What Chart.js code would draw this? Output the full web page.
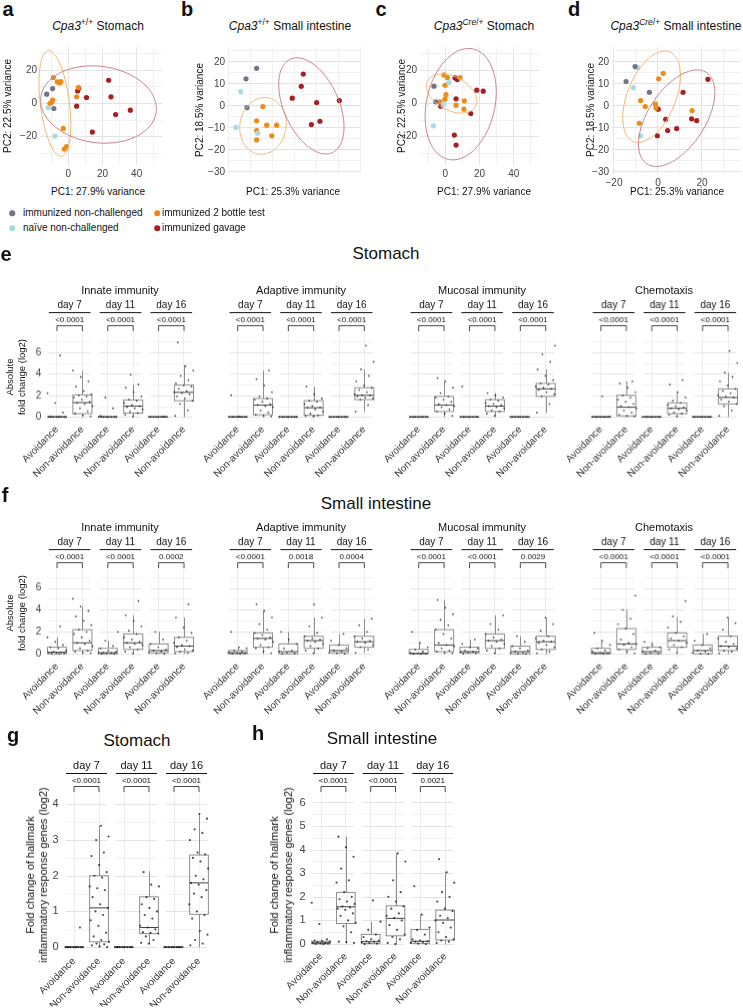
<!DOCTYPE html>
<html><head><meta charset="utf-8"><title>Figure</title>
<script src="https://cdn.jsdelivr.net/npm/chart.js@4.4.1/dist/chart.umd.min.js"></script>
<style>
html,body{margin:0;padding:0;background:#fff}
body{width:743px;height:1008px;position:relative;overflow:hidden;font-family:"Liberation Sans",Arial,Helvetica,sans-serif;color:#111}
canvas{position:absolute}
.tx{position:absolute;white-space:nowrap;line-height:1}
.c{transform:translate(-50%,-50%)}
.l{transform:translate(0,-50%)}
.rot{position:absolute;white-space:pre;text-align:center;transform:translate(-50%,-50%) rotate(-90deg)}
.sup{font-size:8.5px;position:relative;top:-5px}
.dot{position:absolute;width:5.5px;height:5.5px;border-radius:50%;transform:translate(-50%,-50%)}
</style></head><body>
<script>
// ================= DATA =================
const pcaGroups = ['immunized non-challenged','naïve non-challenged','immunized 2 bottle test','immunized gavage'];

// panel a : Cpa3+/+ Stomach  [PC1, PC2]
const a_nonchal = [[-12.6,5.6],[-9.1,9.0],[-8.4,-3.0]];
const a_naive   = [[-11.7,-2.6],[-7.8,-19.6]];
const a_bottle  = [[-8.7,15.6],[-6.4,13.0],[-4.9,12.4],[-4.3,13.2],[-10.7,0.0],[-9.7,0.8],[-9.1,2.0],[5.9,9.6],[4.9,4.0],[-2.9,-15.0],[-2.3,-27.4],[-1.0,-26.0]];
const a_gavage  = [[5.5,7.6],[6.1,9.2],[4.9,-1.6],[10.7,3.6],[14.1,-17.2],[23.6,14.0],[25.0,4.0],[27.7,-6.6],[36.3,-4.0]];
// ellipses: [centre PC1, centre PC2, semi-major, semi-minor, angle deg] for 2 bottle / gavage
const a_ellipses = [[-7.8,0.0,32,8.5,97],[17.7,-0.6,34,23,-8]];

// panel b : Cpa3+/+ Small intestine
const b_nonchal = [[-12.7,12.3],[-7.9,17.1],[-12.3,-0.8]];
const b_naive   = [[-15.1,6.5],[-17.3,-9.8],[-7.4,-12.4]];
const b_bottle  = [[-5.1,-0.3],[-7.9,-6.8],[-7.9,-11.2],[-7.9,-15.5],[-3.3,-8.8],[1.2,-8.8],[-1.0,-13.6]];
const b_gavage  = [[8.3,3.5],[12.4,8.9],[13.3,14.5],[19.4,1.5],[17.0,-8.5],[20.9,-7.0],[29.7,2.4]];
const b_ellipses = [[-5.0,-9.1,13,10.5,80],[17.0,0.0,23.3,12.5,114]];

// panel c : Cpa3Cre/+ Stomach
const c_nonchal = [[-6.6,10.4],[-5.6,1.0]];
const c_naive   = [[2.2,12.6],[-1.2,-0.4],[-7.0,-13.4]];
const c_bottle  = [[-0.8,17.2],[1.2,15.6],[8.6,15.6],[-0.2,11.0],[0.4,5.4],[-0.2,2.6],[-3.1,1.0],[6.3,-1.0],[11.1,1.6],[10.9,-3.4]];
const c_gavage  = [[5.7,15.4],[7.0,14.4],[6.3,2.8],[-2.7,-1.6],[18.4,8.0],[22.2,7.4],[14.9,-6.0],[5.3,-19.0],[6.3,-25.0]];
const c_ellipses = [[3.7,6.0,16,10,-30],[9.0,-0.4,34,20,78]];

// panel d : Cpa3Cre/+ Small intestine
const d_nonchal = [[-10.4,17.9],[-14.5,11.1],[-3.9,6.2]];
const d_naive   = [[-9.2,17.4],[-11.2,8.3],[-7.9,-13.6]];
const d_bottle  = [[2.4,14.8],[0.3,12.3],[-7.9,2.4],[-5.8,-0.3],[-8.5,-7.9],[-1.2,0.8],[-0.9,-1.0],[15.5,-2.1]];
const d_gavage  = [[0.1,-1.5],[11.4,6.2],[22.7,12.1],[3.5,-6.1],[15.3,-5.9],[17.6,-6.7],[8.5,-10.3],[4.4,-11.2],[-0.3,-13.6]];
const d_ellipses = [[-2.9,4.2,22,11,68],[8.5,-5.6,24.8,13,57]];

// box plots
const cats = ['Avoidance','Non-avoidance','Avoidance','Non-avoidance','Avoidance','Non-avoidance'];
const days = ['day 7','day 11','day 16'];
// box stats: [lower whisker, Q1, median, Q3, upper whisker]
const e_innate_box   = [[0,0,0,0,0],[0,0.3,1.33,2.04,4.3],[0,0,0,0,0],[0,0.35,1.0,1.57,3.0],[0,0,0,0,0],[0,1.5,2.28,2.96,4.8]];
const e_adaptive_box = [[0,0,0,0,0],[0,0.2,1.1,1.7,4.3],[0,0,0,0,0],[0,0.15,0.85,1.5,2.8],[0,0,0,0,0],[0.5,1.6,2.0,2.7,4.4]];
const e_mucosal_box  = [[0,0,0,0,0],[0,0.5,1.1,1.9,3.3],[0,0,0,0,0],[0,0.5,1.0,1.6,2.2],[0,0,0,0,0],[0.4,1.9,2.6,3.1,4.4]];
const e_chemo_box    = [[0,0,0,0,0],[0,0.1,0.9,2.0,3.3],[0,0,0,0,0],[0,0.3,0.8,1.3,2.3],[0,0,0,0,0],[0,1.2,1.8,2.6,4.1]];
const f_innate_box   = [[0,0,0.15,0.6,1.5],[0,0.3,1.0,2.2,4.3],[0,0,0.1,0.5,1.2],[0,0.4,1.0,1.8,3.5],[0,0.1,0.3,0.9,2.0],[0,0.2,0.7,1.5,3.3]];
const f_adaptive_box = [[0,0,0.1,0.3,0.6],[0,0.6,1.4,1.9,3.9],[0,0,0.2,0.9,2.0],[0,0.5,1.2,1.6,3.3],[0,0.1,0.3,0.8,1.8],[0.1,0.6,1.1,1.6,3.2]];
const f_mucosal_box  = [[0,0,0.05,0.4,1.0],[0,0.2,0.8,2.2,4.9],[0,0.1,0.2,0.6,1.3],[0,0.5,1.2,1.8,3.5],[0,0,0.2,0.7,1.6],[0,0.4,1.1,1.6,3.3]];
const f_chemo_box    = [[0,0,0.1,0.5,1.2],[0,0.4,0.9,2.3,4.0],[0,0,0.2,0.6,1.1],[0,0.6,1.2,1.9,3.4],[0,0,0.3,0.8,1.8],[0,0.3,0.7,1.6,3.3]];
const g_box = [[0,0,0,0,0],[0,0.15,1.1,2.0,3.4],[0,0,0,0,0],[0.08,0.38,0.55,1.41,2.12],[0,0,0,0,0],[0,0.92,1.8,2.58,3.73]];
const h_box = [[0,0.01,0.05,0.12,0.2],[0.03,0.87,1.58,2.19,4.55],[0,0.02,0.1,0.41,0.95],[0,0.35,1.09,1.62,3.84],[0,0.03,0.12,0.62,1.25],[0,0.17,1.02,1.44,3.04]];

// individual gene values (log2)
const e_innate_pts = [
 [0,0,0,0,0,0,0,0,0,0.05,0.4,1.3,2.2,5.7],
 [0.05,0.15,0.3,0.5,0.8,1.0,1.2,1.3,1.4,1.6,1.8,1.9,2.0,2.1,2.4,2.8,3.3,3.7,4.3],
 [0,0,0,0,0,0,0,0,0.1,0.8,1.8],
 [0.05,0.2,0.35,0.5,0.7,0.8,0.9,1.0,1.1,1.3,1.5,1.6,1.9,2.3,2.7,3.0,3.9],
 [0,0,0,0,0,0,0,0,0.05],
 [0.1,0.6,1.2,1.5,1.7,1.9,2.1,2.2,2.3,2.4,2.6,2.8,2.9,3.1,3.4,3.8,4.3,4.7,6.9]];
const e_adaptive_pts = [
 [0,0,0,0,0,0,0,0,0.05,2.0],
 [0.05,0.1,0.2,0.4,0.6,0.9,1.0,1.1,1.2,1.4,1.6,1.7,1.9,2.3,2.9,3.5,4.3],
 [0,0,0,0,0,0,0,0],
 [0.05,0.1,0.15,0.3,0.5,0.7,0.85,0.9,1.0,1.2,1.4,1.5,1.7,2.1,2.8],
 [0,0,0,0,0,0,0,0],
 [0.5,1.1,1.6,1.7,1.8,1.9,2.0,2.0,2.1,2.3,2.5,2.7,2.9,3.3,3.8,4.4,5.1,6.6]];
const e_mucosal_pts = [
 [0,0,0,0,0,0,0,0],
 [0.1,0.3,0.5,0.7,0.9,1.0,1.1,1.2,1.4,1.6,1.8,1.9,2.2,2.7,3.3,3.6],
 [0,0,0,0,0,0,0,0,2.8],
 [0.1,0.3,0.5,0.6,0.8,0.9,1.0,1.1,1.2,1.3,1.5,1.6,1.8,2.0,2.2],
 [0,0,0,0,0,0,0,0],
 [0.4,1.2,1.9,2.1,2.3,2.5,2.6,2.7,2.8,3.0,3.1,3.4,3.8,4.4,5.1,5.8,6.6]];
const e_chemo_pts = [
 [0,0,0,0,0,0,0,0.05,1.9],
 [0.05,0.1,0.2,0.4,0.6,0.8,0.9,1.0,1.2,1.4,1.6,1.8,2.0,2.3,2.7,3.1,3.3],
 [0,0,0,0,0,0,0,0],
 [0.05,0.2,0.3,0.4,0.6,0.7,0.8,0.9,1.0,1.1,1.3,1.5,1.8,2.3,3.0,3.4],
 [0,0,0,0,0,0,0,0],
 [0.1,0.6,1.0,1.2,1.4,1.6,1.8,1.9,2.0,2.2,2.4,2.6,2.9,3.3,3.7,4.1,5.0,6.1]];
const f_innate_pts = [
 [0,0.02,0.05,0.1,0.12,0.15,0.2,0.3,0.5,0.6,0.8,1.1,1.5,2.5],
 [0.05,0.1,0.2,0.3,0.5,0.7,0.9,1.0,1.2,1.5,1.8,2.0,2.2,2.6,3.0,3.4,3.9,4.3,5.0],
 [0,0.02,0.05,0.08,0.1,0.15,0.2,0.3,0.5,0.7,1.2,2.0],
 [0.05,0.2,0.4,0.6,0.8,0.9,1.0,1.1,1.3,1.5,1.8,2.1,2.5,3.0,3.5,4.8],
 [0,0.05,0.1,0.2,0.3,0.4,0.6,0.9,1.3,2.0],
 [0.05,0.1,0.2,0.3,0.4,0.6,0.7,0.8,1.0,1.2,1.5,1.9,2.4,3.3,4.5]];
const f_adaptive_pts = [
 [0,0.02,0.05,0.1,0.15,0.2,0.3,0.5,0.6,2.0],
 [0.05,0.2,0.5,0.6,0.8,1.1,1.3,1.4,1.5,1.7,1.9,2.2,2.7,3.3,3.9,4.5],
 [0,0.05,0.1,0.2,0.3,0.5,0.9,1.3,2.0],
 [0.05,0.3,0.5,0.7,0.9,1.1,1.2,1.3,1.4,1.6,1.9,2.5,3.3,4.5],
 [0,0.05,0.1,0.2,0.3,0.5,0.8,1.2,1.8],
 [0.1,0.4,0.6,0.8,1.0,1.1,1.2,1.4,1.6,2.0,2.6,3.2]];
const f_mucosal_pts = [
 [0,0,0.02,0.05,0.1,0.2,0.4,0.6,1.0,2.0],
 [0.05,0.1,0.2,0.3,0.5,0.7,0.8,1.0,1.4,1.8,2.2,2.6,3.1,3.6,4.2,4.9],
 [0,0.05,0.1,0.15,0.2,0.3,0.5,0.6,0.9,1.3],
 [0.05,0.3,0.5,0.7,0.9,1.1,1.2,1.3,1.5,1.8,2.2,2.7,3.5],
 [0,0.02,0.05,0.1,0.2,0.3,0.5,0.7,1.1,1.6],
 [0.05,0.2,0.4,0.6,0.8,1.0,1.1,1.2,1.4,1.6,2.1,2.7,3.3]];
const f_chemo_pts = [
 [0,0.02,0.05,0.1,0.2,0.3,0.5,0.8,1.2,1.9],
 [0.05,0.2,0.4,0.6,0.8,0.9,1.0,1.3,1.8,2.3,2.7,3.2,4.0,5.3],
 [0,0.05,0.1,0.2,0.3,0.5,0.6,0.8,1.1],
 [0.1,0.4,0.6,0.8,1.0,1.2,1.4,1.6,1.9,2.4,2.9,3.4,4.8],
 [0,0.02,0.1,0.2,0.3,0.5,0.8,1.2,1.8],
 [0.05,0.2,0.3,0.5,0.6,0.7,0.9,1.1,1.4,1.6,2.2,2.8,3.3]];
const g_pts = [
 [0,0,0,0,0,0,0,0,0,0,0.55],
 [0,0.02,0.05,0.08,0.1,0.15,0.2,0.3,0.4,0.6,0.75,0.9,1.0,1.1,1.2,1.4,1.6,1.65,1.7,1.95,2.0,2.1,2.3,2.55,2.65,3.0,3.1,3.4],
 [0,0,0,0,0,0,0,0,0],
 [0.1,0.12,0.2,0.3,0.38,0.4,0.42,0.5,0.55,0.6,0.8,0.9,1.0,1.1,1.2,1.35,1.4,1.7,1.75,2.1],
 [0,0,0,0,0,0,0,0,0],
 [0.05,0.1,0.2,0.35,0.45,0.8,0.9,1.0,1.2,1.4,1.5,1.6,1.75,1.8,1.9,2.0,2.2,2.4,2.5,2.6,2.65,3.0,3.2,3.3,3.6,3.73]];
const h_pts = [
 [0,0.01,0.02,0.03,0.05,0.05,0.08,0.1,0.12,0.15,0.2,0.85,1.75],
 [0.05,0.08,0.1,0.5,0.75,0.9,1.0,1.2,1.3,1.45,1.5,1.55,1.6,1.7,1.8,1.9,2.0,2.2,2.6,2.7,3.2,3.7,4.1,4.55],
 [0,0.02,0.05,0.08,0.1,0.12,0.15,0.2,0.3,0.4,0.6,0.95,1.85],
 [0,0.05,0.2,0.3,0.4,0.6,0.8,1.0,1.1,1.2,1.3,1.5,1.6,1.8,2.0,2.2,2.7,3.5,3.84],
 [0,0.02,0.05,0.08,0.1,0.12,0.15,0.2,0.4,0.6,0.7,1.25,2.45],
 [0.05,0.1,0.15,0.2,0.3,0.5,0.7,0.9,1.0,1.1,1.2,1.4,1.5,1.8,2.0,2.2,2.6,3.04,3.6]];

// p-values per day
const e_innate_p = ['<0.0001','<0.0001','<0.0001'];
const e_adaptive_p = ['<0.0001','<0.0001','<0.0001'];
const e_mucosal_p = ['<0.0001','<0.0001','<0.0001'];
const e_chemo_p = ['<0.0001','<0.0001','<0.0001'];
const f_innate_p = ['<0.0001','<0.0001','0.0002'];
const f_adaptive_p = ['<0.0001','0.0018','0.0004'];
const f_mucosal_p = ['<0.0001','<0.0001','0.0029'];
const f_chemo_p = ['<0.0001','<0.0001','<0.0001'];
const g_p = ['<0.0001','<0.0001','<0.0001'];
const h_p = ['<0.0001','<0.0001','0.0021'];

// ================= STYLE =================
const FONT = '"Liberation Sans", Arial, Helvetica, sans-serif';
Chart.defaults.font.family = FONT;
Chart.defaults.color = '#333';
const groupColors = ['#6f7588','#a9d9e2','#ee8a17','#a81e25'];
const ellipseColors = ['#f2b56c','#c9808c'];
const gridMajor = '#e3e3e3', gridMinor = '#f1f1f1';

// ================= HELPERS =================
function T(html, x, y, size, cls, extra){
  const d = document.createElement('div');
  d.className = 'tx ' + (cls || 'c');
  d.style.left = x + 'px'; d.style.top = y + 'px'; d.style.fontSize = size + 'px';
  if (extra) Object.assign(d.style, extra);
  d.innerHTML = html; document.body.appendChild(d);
}
function R(text, x, y, size, lh){
  const d = document.createElement('div');
  d.className = 'rot';
  d.style.left = x + 'px'; d.style.top = y + 'px'; d.style.fontSize = size + 'px';
  d.style.lineHeight = (lh || size * 1.2) + 'px';
  d.textContent = text; document.body.appendChild(d);
}
function Dot(x, y, col){
  const d = document.createElement('div');
  d.className = 'dot'; d.style.left = x + 'px'; d.style.top = y + 'px'; d.style.background = col;
  document.body.appendChild(d);
}
const isMult = (v, m) => Math.abs(v / m - Math.round(v / m)) < 1e-6;
const fmt = v => (v < 0 ? '\u2212' + Math.abs(v) : String(Math.round(v * 100) / 100));

function mk(cv, area, yW, xH, config){
  const c = document.createElement('canvas');
  const w = cv.r - cv.l, h = cv.b - cv.t;
  c.style.left = cv.l + 'px'; c.style.top = cv.t + 'px';
  c.style.width = w + 'px'; c.style.height = h + 'px';
  c.width = w; c.height = h;
  document.body.appendChild(c);
  config.options.responsive = false;
  config.options.animation = false;
  config.options.events = [];
  config.options.layout = {padding: {left: area.l - cv.l - yW, right: cv.r - area.r, top: area.t - cv.t, bottom: cv.b - area.b - xH}};
  return new Chart(c, config);
}
function linAxis(min, max, step, major, show, font, fit, horizontal, gridOn){
  return {
    type: 'linear', min, max, border: {display: false},
    grid: {display: gridOn !== false, color: c => isMult(c.tick.value, major) ? gridMajor : gridMinor, drawTicks: false, lineWidth: 1},
    ticks: {stepSize: step, includeBounds: false, display: show, padding: 3, color: '#444', font: {size: font},
            autoSkip: false, maxRotation: 0, callback: v => isMult(v, major) ? fmt(v) : ''},
    afterFit: s => { if (horizontal){ s.height = fit; s.paddingLeft = 0; s.paddingRight = 0; }
                     else { s.width = fit; s.paddingTop = 0; s.paddingBottom = 0; } }
  };
}

// ---------- PCA ----------
function pcaChart(cv, area, yW, xH, xr, yr, xMaj, yMaj, groups, ells){
  const datasets = groups.map((g, i) => ({
    label: pcaGroups[i], data: g.map(p => ({x: p[0], y: p[1]})),
    backgroundColor: groupColors[i], pointRadius: 2.6, pointHoverRadius: 2.6, pointBorderWidth: 0
  }));
  const ellPlugin = {id: 'ell', afterDatasetsDraw(ch){
    const xs = ch.scales.x, ys = ch.scales.y, ctx = ch.ctx;
    ctx.save();
    ells.forEach((e, k) => {
      const [cx, cy, a, b, deg] = e, ph = deg * Math.PI / 180;
      ctx.beginPath();
      for (let s = 0; s <= 120; s++){
        const t = s / 120 * 2 * Math.PI;
        const dx = cx + a * Math.cos(t) * Math.cos(ph) - b * Math.sin(t) * Math.sin(ph);
        const dy = cy + a * Math.cos(t) * Math.sin(ph) + b * Math.sin(t) * Math.cos(ph);
        const px = xs.getPixelForValue(dx), py = ys.getPixelForValue(dy);
        if (s) ctx.lineTo(px, py); else ctx.moveTo(px, py);
      }
      ctx.strokeStyle = ellipseColors[k]; ctx.lineWidth = 1; ctx.stroke();
    });
    ctx.restore();
  }};
  return mk(cv, area, yW, xH, {
    type: 'scatter', data: {datasets},
    options: {plugins: {legend: {display: false}, tooltip: {enabled: false}},
      scales: {x: linAxis(xr[0], xr[1], xMaj / 2, xMaj, true, 10, xH, true),
               y: linAxis(yr[0], yr[1], yMaj / 2, yMaj, true, 10, yW, false)}},
    plugins: [ellPlugin]
  });
}

// ---------- Box plots ----------
function facetRange(xs, k){
  const p1 = xs.getPixelForValue(2 * k + 1), p2 = xs.getPixelForValue(2 * k + 2);
  const ext = (p2 - p1) * 0.32;
  return [p1, p2, p1 - ext, p2 + ext];
}
function boxPlugin(stats, major){
  return {id: 'box', beforeDatasetsDraw(ch){
    const ctx = ch.ctx, xs = ch.scales.x, ys = ch.scales.y;
    ctx.save(); ctx.lineWidth = 1;
    // horizontal grid, one facet panel at a time
    for (let k = 0; k < 3; k++){
      const [, , L, Rr] = facetRange(xs, k);
      ys.ticks.forEach(t => {
        const y = Math.round(ys.getPixelForValue(t.value)) + 0.5;
        ctx.strokeStyle = isMult(t.value, major) ? gridMajor : gridMinor;
        ctx.beginPath(); ctx.moveTo(L, y); ctx.lineTo(Rr, y); ctx.stroke();
      });
    }
    stats.forEach((s, i) => {
      const x = Math.round(xs.getPixelForValue(i + 1)) + 0.5;
      const xl = xs.getPixelForValue(i + 1 - 0.375), xr = xs.getPixelForValue(i + 1 + 0.375);
      const [lo, q1, md, q3, hi] = s.map(v => ys.getPixelForValue(v));
      ctx.strokeStyle = '#8d8d8d';
      ctx.beginPath(); ctx.moveTo(x, hi); ctx.lineTo(x, q3); ctx.moveTo(x, q1); ctx.lineTo(x, lo); ctx.stroke();
      ctx.fillStyle = 'rgba(255,255,255,0.55)';
      ctx.fillRect(xl, q3, xr - xl, q1 - q3);
      ctx.strokeRect(xl, q3, xr - xl, q1 - q3);
      ctx.strokeStyle = '#444';
      ctx.beginPath(); ctx.moveTo(xl, md); ctx.lineTo(xr, md); ctx.stroke();
    });
    ctx.restore();
  }};
}
function stripPlugin(pvals, dayFont, pFont){
  return {id: 'strip', afterDraw(ch){
    const ctx = ch.ctx, xs = ch.scales.x, top = ch.chartArea.top;
    ctx.save();
    ctx.textAlign = 'center'; ctx.textBaseline = 'middle';
    for (let k = 0; k < 3; k++){
      const [p1, p2, L, Rr] = facetRange(xs, k), mid = (p1 + p2) / 2;
      ctx.fillStyle = '#111';
      ctx.font = dayFont + 'px ' + FONT;
      ctx.fillText(days[k], mid, top - 28);
      ctx.strokeStyle = '#111'; ctx.lineWidth = 1;
      ctx.beginPath(); ctx.moveTo(L, top - 20.5); ctx.lineTo(Rr, top - 20.5); ctx.stroke();
      ctx.font = pFont + 'px ' + FONT;
      ctx.fillText(pvals[k], mid, top - 13.5);
      ctx.strokeStyle = '#333'; ctx.lineWidth = 0.9;
      ctx.beginPath();
      ctx.moveTo(p1, top - 2); ctx.lineTo(p1, top - 7.5); ctx.lineTo(p2, top - 7.5); ctx.lineTo(p2, top - 2);
      ctx.stroke();
    }
    ctx.restore();
  }};
}
function boxChart(cv, area, yW, xH, yr, step, major, showY, yFont, xFont, dayFont, pFont, box, pts, pvals, ptR){
  const data = [];
  pts.forEach((arr, i) => arr.forEach((v, k) => {
    data.push({x: i + 1 + ((((k + 1) * 0.6180339887 + i * 0.29) % 1) - 0.5) * 0.8, y: v});
  }));
  return mk(cv, area, yW, xH, {
    type: 'scatter',
    data: {datasets: [{data, backgroundColor: 'rgba(35,35,35,0.8)', pointRadius: ptR, pointHoverRadius: ptR, pointBorderWidth: 0}]},
    options: {plugins: {legend: {display: false}, tooltip: {enabled: false}},
      scales: {
        x: {type: 'linear', min: 0.5, max: 6.5, border: {display: false},
            afterBuildTicks: s => { s.ticks = [1, 2, 3, 4, 5, 6].map(v => ({value: v})); },
            grid: {color: '#ececec', drawTicks: false},
            ticks: {autoSkip: false, minRotation: 45, maxRotation: 45, padding: 3, color: '#333', font: {size: xFont},
                    callback: (v, i) => cats[i]},
            afterFit: s => { s.height = xH; s.paddingLeft = 0; s.paddingRight = 0; }},
        y: linAxis(yr[0], yr[1], step, major, showY, yFont, yW, false, false)
      }},
    plugins: [boxPlugin(box, major), stripPlugin(pvals, dayFont, pFont)]
  });
}

// ================= BUILD =================
// Row 1: PCA
pcaChart({l:0,t:40,r:172,b:186}, {l:40,t:47,r:162,b:165}, 20, 14, [-16.5,54.8], [-37,34], 20, 20,
  [a_nonchal, a_naive, a_bottle, a_gavage], a_ellipses);
pcaChart({l:204,t:40,r:368,b:192}, {l:228,t:47,r:360,b:174}, 22, 14, [-20.9,39.1], [-31,26.8], 20, 10,
  [b_nonchal, b_naive, b_bottle, b_gavage], b_ellipses);
pcaChart({l:396,t:40,r:552,b:186}, {l:420,t:47,r:539,b:165}, 20, 14, [-14.8,54.8], [-37,34], 20, 20,
  [c_nonchal, c_naive, c_bottle, c_gavage], c_ellipses);
pcaChart({l:588,t:40,r:743,b:192}, {l:612,t:47,r:740,b:174}, 22, 14, [-20.9,37.3], [-31,26.8], 20, 10,
  [d_nonchal, d_naive, d_bottle, d_gavage], d_ellipses);

// e : Stomach
const eT = 333, eB = 420.5, eY = [-0.35, 7.75];
boxChart({l:0,t:eT-40,r:200,b:eB+64}, {l:44.3,t:eT,r:196.7,b:eB}, 14, 60, eY, 1, 2, true, 10, 10, 10, 8, e_innate_box, e_innate_pts, e_innate_p, 0.9);
boxChart({l:184.5,t:eT-40,r:381,b:eB+64}, {l:224.5,t:eT,r:377,b:eB}, 0, 60, eY, 1, 2, false, 10, 10, 10, 8, e_adaptive_box, e_adaptive_pts, e_adaptive_p, 0.9);
boxChart({l:366,t:eT-40,r:562,b:eB+64}, {l:406,t:eT,r:558.4,b:eB}, 0, 60, eY, 1, 2, false, 10, 10, 10, 8, e_mucosal_box, e_mucosal_pts, e_mucosal_p, 0.9);
boxChart({l:548.3,t:eT-40,r:743,b:eB+64}, {l:588.3,t:eT,r:740.7,b:eB}, 0, 60, eY, 1, 2, false, 10, 10, 10, 8, e_chemo_box, e_chemo_pts, e_chemo_p, 0.9);

// f : Small intestine
const fT = 570, fB = 657.5, fY = [-0.35, 7.6];
boxChart({l:0,t:fT-40,r:200,b:fB+64}, {l:44.3,t:fT,r:196.7,b:fB}, 14, 60, fY, 1, 2, true, 10, 10, 10, 8, f_innate_box, f_innate_pts, f_innate_p, 0.9);
boxChart({l:184.5,t:fT-40,r:381,b:fB+64}, {l:224.5,t:fT,r:377,b:fB}, 0, 60, fY, 1, 2, false, 10, 10, 10, 8, f_adaptive_box, f_adaptive_pts, f_adaptive_p, 0.9);
boxChart({l:366,t:fT-40,r:562,b:fB+64}, {l:406,t:fT,r:558.4,b:fB}, 0, 60, fY, 1, 2, false, 10, 10, 10, 8, f_mucosal_box, f_mucosal_pts, f_mucosal_p, 0.9);
boxChart({l:548.3,t:fT-40,r:743,b:fB+64}, {l:588.3,t:fT,r:740.7,b:fB}, 0, 60, fY, 1, 2, false, 10, 10, 10, 8, f_chemo_box, f_chemo_pts, f_chemo_p, 0.9);

// g and h
boxChart({l:0,t:754,r:218,b:1008}, {l:61.5,t:794,r:211.5,b:952.5}, 20, 54, [-0.15,4.29], 0.5, 1, true, 11, 10, 11, 8, g_box, g_pts, g_p, 1.1);
boxChart({l:262,t:754,r:465,b:1008}, {l:308.6,t:794,r:457.6,b:947.6}, 20, 58, [-0.15,6.36], 0.5, 1, true, 11, 10, 11, 8, h_box, h_pts, h_p, 1.1);

// ================= TEXT =================
const B = {fontWeight: 'bold'};
T('a', 8, 9, 20, 'c', B); T('b', 187, 9, 20, 'c', B); T('c', 381, 9, 20, 'c', B); T('d', 574, 9, 20, 'c', B);
T('<i>Cpa3</i><span class="sup">+/+</span> Stomach', 98, 26, 12);
T('<i>Cpa3</i><span class="sup">+/+</span> Small intestine', 290, 26, 12);
T('<i>Cpa3</i><span class="sup"><i>Cre</i>/+</span> Stomach', 484, 26, 12);
T('<i>Cpa3</i><span class="sup"><i>Cre</i>/+</span> Small intestine', 676, 26, 12);
R('PC2: 22.5% variance', 8, 106, 10); R('PC2: 18.5% variance', 200, 110, 10);
R('PC2: 22.5% variance', 402, 106, 10); R('PC2: 18.5% variance', 591, 110, 10);
T('PC1: 27.9% variance', 98, 192, 10); T('PC1: 25.3% variance', 293, 192, 10);
T('PC1: 27.9% variance', 484, 192, 10); T('PC1: 25.3% variance', 677, 192, 10);
// legend
Dot(12, 213, groupColors[0]); T(pcaGroups[0], 23, 213, 10, 'l');
Dot(12, 228, groupColors[1]); T(pcaGroups[1], 23, 228, 10, 'l');
Dot(157, 213, groupColors[2]); T(pcaGroups[2], 162, 213, 10, 'l');
Dot(157, 228, groupColors[3]); T(pcaGroups[3], 162, 228, 10, 'l');
// e
T('e', 6, 254, 20, 'c', B); T('Stomach', 386, 253, 17);
T('Innate immunity', 120, eT - 43, 11); T('Adaptive immunity', 301, eT - 43, 11);
T('Mucosal immunity', 482, eT - 43, 11); T('Chemotaxis', 664, eT - 43, 11);
R('Absolute\nfold change (log2)', 16, 377, 9.5, 12);
// f
T('f', 5, 495, 20, 'c', B); T('Small intestine', 376, 503, 17);
T('Innate immunity', 120, fT - 43, 11); T('Adaptive immunity', 301, fT - 43, 11);
T('Mucosal immunity', 482, fT - 43, 11); T('Chemotaxis', 664, fT - 43, 11);
R('Absolute\nfold change (log2)', 16, 613, 9.5, 12);
// g, h
T('g', 13, 735, 20, 'c', B); T('Stomach', 137, 740, 17);
T('h', 258, 733, 20, 'c', B); T('Small intestine', 382, 738, 17);
R('Fold change of hallmark\ninflammatory response genes (log2)', 36.5, 875, 11, 13);
R('Fold change of hallmark\ninflammatory response genes (log2)', 280.5, 875, 11, 14);
</script>
</body></html>
